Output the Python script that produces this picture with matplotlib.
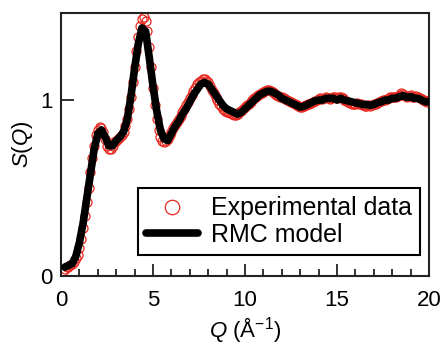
import numpy as np
import matplotlib
matplotlib.use("Agg")
import matplotlib.pyplot as plt
from matplotlib.ticker import MultipleLocator

plt.rcParams['font.family'] = ['Liberation Sans', 'DejaVu Sans']
plt.rcParams['mathtext.fontset'] = 'custom'
plt.rcParams['mathtext.it'] = 'Liberation Sans:italic'
plt.rcParams['mathtext.rm'] = 'Liberation Sans'

# experimental S(Q), Q = 0.1 ... 20.0 step 0.1
q_exp = np.round(np.arange(1, 201) * 0.1, 2)
s_exp = [
    0.03, 0.04, 0.05, 0.05, 0.06, 0.07, 0.08, 0.10, 0.12, 0.16,
    0.21, 0.27, 0.34, 0.42, 0.50, 0.59, 0.67, 0.74, 0.80, 0.83,
    0.845, 0.84, 0.82, 0.78, 0.74, 0.72, 0.72, 0.74, 0.76, 0.77,
    0.78, 0.79, 0.80, 0.82, 0.85, 0.89, 0.95, 1.02, 1.10, 1.19,
    1.28, 1.36, 1.42, 1.46, 1.47, 1.45, 1.39, 1.30, 1.19, 1.07,
    0.97, 0.89, 0.83, 0.79, 0.77, 0.76, 0.765, 0.78, 0.80, 0.82,
    0.84, 0.86, 0.875, 0.89, 0.91, 0.93, 0.95, 0.97, 0.99, 1.01,
    1.03, 1.05, 1.07, 1.09, 1.10, 1.11, 1.12, 1.12, 1.11, 1.10,
    1.08, 1.06, 1.04, 1.02, 1.00, 0.98, 0.965, 0.95, 0.94, 0.935,
    0.93, 0.925, 0.92, 0.915, 0.915, 0.92, 0.93, 0.94, 0.95, 0.96,
    0.97, 0.98, 0.99, 1.00, 1.01, 1.02, 1.03, 1.035, 1.04, 1.045,
    1.05, 1.055, 1.055, 1.05, 1.045, 1.04, 1.03, 1.025, 1.02, 1.015,
    1.01, 1.005, 1.00, 0.995, 0.99, 0.985, 0.98, 0.97, 0.965, 0.96,
    0.96, 0.965, 0.97, 0.975, 0.98, 0.985, 0.99, 0.995, 1.00, 1.005,
    1.01, 1.005, 1.01, 1.015, 1.01, 1.005, 1.01, 1.02, 1.015, 1.01,
    1.015, 1.02, 1.01, 1.00, 0.995, 0.99, 0.985, 0.98, 0.975, 0.98,
    0.985, 0.98, 0.975, 0.97, 0.965, 0.965, 0.97, 0.965, 0.97, 0.975,
    0.98, 0.985, 0.99, 0.995, 1.00, 1.00, 1.005, 1.01, 1.015, 1.02,
    1.015, 1.02, 1.025, 1.03, 1.04, 1.035, 1.025, 1.02, 1.025, 1.03,
    1.02, 1.015, 1.025, 1.015, 1.01, 1.005, 1.00, 0.995, 0.99, 1.00,
]

# RMC model S(Q), Q = 0.2 ... 20.0 step 0.2
q_rmc = np.round(np.arange(1, 101) * 0.2, 2)
s_rmc = [
    0.05, 0.06, 0.07, 0.11, 0.19, 0.30, 0.44, 0.58, 0.72, 0.81,
    0.83, 0.79, 0.74, 0.74, 0.77, 0.79, 0.82, 0.89, 1.02, 1.18,
    1.32, 1.41, 1.39, 1.24, 1.08, 0.94, 0.83, 0.78, 0.77, 0.81,
    0.85, 0.88, 0.92, 0.95, 0.99, 1.03, 1.06, 1.09, 1.10, 1.09,
    1.06, 1.03, 1.00, 0.97, 0.95, 0.94, 0.93, 0.92, 0.93, 0.95,
    0.97, 0.99, 1.01, 1.03, 1.04, 1.05, 1.05, 1.04, 1.03, 1.01,
    1.00, 0.99, 0.98, 0.97, 0.96, 0.965, 0.975, 0.985, 0.995, 1.00,
    1.00, 1.01, 1.01, 1.01, 1.00, 1.01, 1.00, 0.995, 0.99, 0.985,
    0.98, 0.975, 0.975, 0.97, 0.975, 0.985, 0.99, 1.00, 1.00, 1.01,
    1.01, 1.02, 1.025, 1.015, 1.02, 1.01, 1.01, 1.00, 0.99, 0.99,
]

fig = plt.figure(figsize=(4.43, 3.44), dpi=100)
ax = fig.add_axes([0.1377, 0.1977, 0.8307, 0.7645])

red = '#e8281e'
ax.plot(q_exp, s_exp, 'o', mfc='none', mec=red, ms=6.5, mew=0.9,
        label='Experimental data', zorder=2)
ax.plot(q_rmc, s_rmc, '-', color='black', lw=5.5, label='RMC model',
        zorder=3, solid_capstyle='round')

ax.set_xlim(0, 20)
ax.set_ylim(0, 1.495)
ax.xaxis.set_major_locator(MultipleLocator(5))
ax.xaxis.set_minor_locator(MultipleLocator(1))
ax.set_yticks([0, 1])
ax.tick_params(axis='both', which='major', direction='in', length=9,
               width=1.3, labelsize=16, color='#222222', pad=6)
ax.tick_params(axis='x', which='major', pad=10)
ax.tick_params(axis='x', which='minor', direction='in', length=5,
               width=1.3, color='#222222')
ax.tick_params(top=False, right=False, which='both')
for sp in ax.spines.values():
    sp.set_linewidth(1.5)
    sp.set_color('#222222')

ax.set_xlabel(r'$Q$ (Å$^{-1}$)', fontsize=16, labelpad=3)
ax.set_ylabel(r'$S$($Q$)', fontsize=16, labelpad=4)

leg = ax.legend(loc='lower right', bbox_to_anchor=(0.9755, 0.08),
                borderaxespad=0, fontsize=18, frameon=True, fancybox=False,
                edgecolor='black', framealpha=1, markerscale=1.6,
                handlelength=2.1, handletextpad=0.5, borderpad=0.32,
                labelspacing=0.1)
leg.get_frame().set_linewidth(1.5)

fig.savefig('out.png', dpi=100)
